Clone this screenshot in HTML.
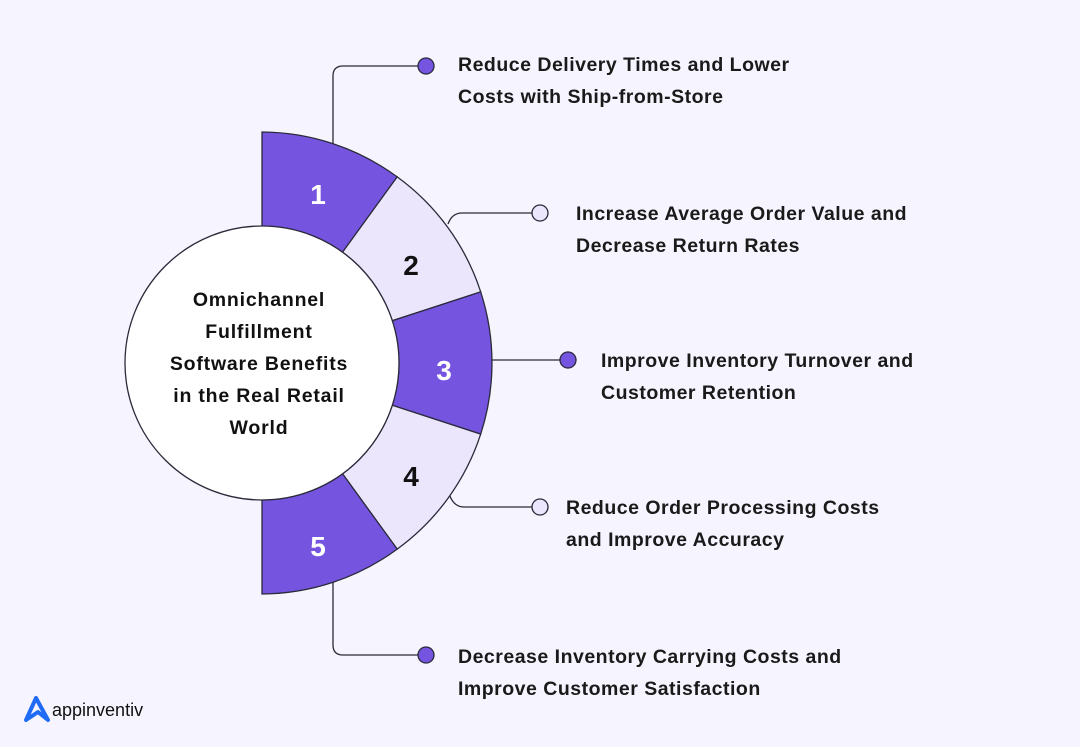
<!DOCTYPE html>
<html><head><meta charset="utf-8"><style>
html,body{margin:0;padding:0;background:#f6f4fe;}
svg{display:block;}
text{font-family:"Liberation Sans",sans-serif;font-weight:bold;}
</style></head><body>
<svg width="1080" height="747" viewBox="0 0 1080 747" xmlns="http://www.w3.org/2000/svg">
<rect width="1080" height="747" fill="#f6f4fe"/>
<g stroke="#2a2a3a" stroke-width="1.3" fill="none">
<path d="M333 144 V76 Q333 66 343 66 H418"/>
<path d="M448 224 Q452 213 462 213 H532"/>
<path d="M490 360 H560"/>
<path d="M448 490 Q452 507 464 507 H532"/>
<path d="M333 582 V645 Q333 655 343 655 H418"/>
</g>
<g stroke="#2a2a3a" stroke-width="1.3">
<path d="M262 132 A230 230 0 0 1 397.2 176.9 L342.5 252.2 A137 137 0 0 0 262 226 Z" fill="#7555e0"/>
<path d="M397.2 176.9 A230 230 0 0 1 480.7 291.9 L392.3 320.7 A137 137 0 0 0 342.5 252.2 Z" fill="#ebe6fc"/>
<path d="M480.7 291.9 A230 230 0 0 1 480.7 434.1 L392.3 405.3 A137 137 0 0 0 392.3 320.7 Z" fill="#7555e0"/>
<path d="M480.7 434.1 A230 230 0 0 1 397.2 549.1 L342.5 473.8 A137 137 0 0 0 392.3 405.3 Z" fill="#ebe6fc"/>
<path d="M397.2 549.1 A230 230 0 0 1 262 594 L262 500 A137 137 0 0 0 342.5 473.8 Z" fill="#7555e0"/>
<circle cx="262" cy="363" r="137" fill="#ffffff"/>
<circle cx="426" cy="66" r="8" fill="#7555e0"/>
<circle cx="540" cy="213" r="8" fill="#ebe6fc"/>
<circle cx="568" cy="360" r="8" fill="#7555e0"/>
<circle cx="540" cy="507" r="8" fill="#ebe6fc"/>
<circle cx="426" cy="655" r="8" fill="#7555e0"/>
</g>
<g font-size="28" text-anchor="middle">
<text x="318" y="204" fill="#fff">1</text>
<text x="411" y="275" fill="#111">2</text>
<text x="444" y="380" fill="#fff">3</text>
<text x="411" y="486" fill="#111">4</text>
<text x="318" y="556" fill="#fff">5</text>
</g>
<g font-size="19.5" letter-spacing="0.8" text-anchor="middle" fill="#111">
<text x="259" y="306">Omnichannel</text>
<text x="259" y="338">Fulfillment</text>
<text x="259" y="370">Software Benefits</text>
<text x="259" y="402">in the Real Retail</text>
<text x="259" y="434">World</text>
</g>
<g font-size="19.5" letter-spacing="0.5" fill="#1a1a1a">
<text x="458" y="71">Reduce Delivery Times and Lower</text>
<text x="458" y="103">Costs with Ship-from-Store</text>
<text x="576" y="220">Increase Average Order Value and</text>
<text x="576" y="252">Decrease Return Rates</text>
<text x="601" y="367">Improve Inventory Turnover and</text>
<text x="601" y="399">Customer Retention</text>
<text x="566" y="514">Reduce Order Processing Costs</text>
<text x="566" y="546">and Improve Accuracy</text>
<text x="458" y="663">Decrease Inventory Carrying Costs and</text>
<text x="458" y="695">Improve Customer Satisfaction</text>
</g>
<path d="M26 720 L36 698 L48 720 L38 712 Z" fill="none" stroke="#1f6bf5" stroke-width="4" stroke-linejoin="round"/>
<text x="52" y="716" font-size="18" fill="#111" style="font-weight:normal">appinventiv</text>
</svg>
</body></html>
